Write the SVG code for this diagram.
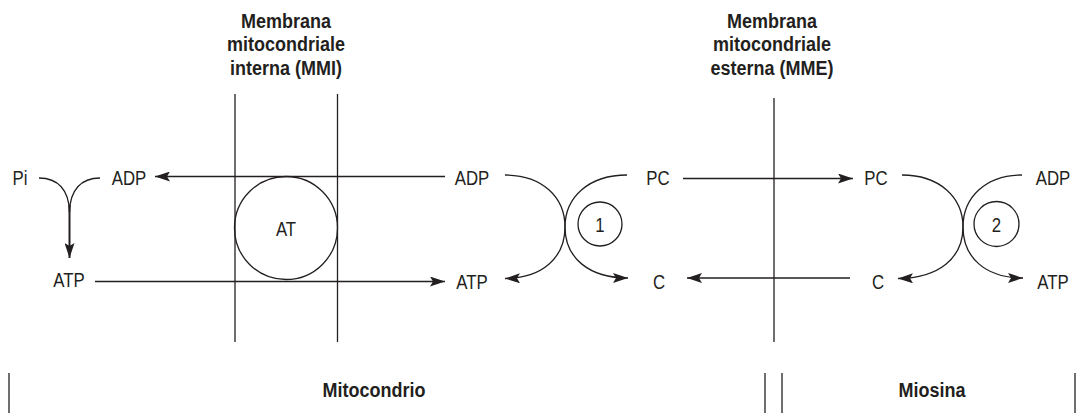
<svg xmlns="http://www.w3.org/2000/svg" width="1082" height="413" viewBox="0 0 1082 413">
<style>
.bg{fill:#ffffff}
.ln{stroke:#231f20;stroke-width:1.3;fill:none}
.lbl{font-family:"Liberation Sans",Arial,sans-serif;font-size:21px;fill:#231f20;text-anchor:middle}
.hdr{font-family:"Liberation Sans",Arial,sans-serif;font-weight:bold;font-size:18px;fill:#231f20;text-anchor:middle}
.bot{font-family:"Liberation Sans",Arial,sans-serif;font-weight:bold;font-size:18px;fill:#231f20;text-anchor:middle}
</style>
<defs>
<marker id="ah" markerWidth="16" markerHeight="10" refX="15" refY="5" orient="auto" markerUnits="userSpaceOnUse">
<path d="M0,0 L15,5 L0,10 L3,5 Z" fill="#231f20"/>
</marker>
</defs>
<rect class="bg" x="0" y="0" width="1082" height="413"/>

<g id="membranes">
<line class="ln" x1="235" y1="94" x2="235" y2="342"/>
<line class="ln" x1="337.5" y1="94" x2="337.5" y2="342"/>
<line class="ln" x1="774" y1="98" x2="774" y2="342"/>
</g>

<g id="header-mmi">
<text class="hdr" transform="translate(286,28) scale(1,1.1)">Membrana</text>
<text class="hdr" transform="translate(286,51) scale(1,1.1)">mitocondriale</text>
<text class="hdr" transform="translate(286,75) scale(1,1.1)">interna (MMI)</text>
</g>
<g id="header-mme">
<text class="hdr" transform="translate(772,28) scale(1,1.1)">Membrana</text>
<text class="hdr" transform="translate(772,51) scale(1,1.1)">mitocondriale</text>
<text class="hdr" transform="translate(772,75) scale(1,1.1)">esterna (MME)</text>
</g>

<g id="node-at">
<circle class="ln" cx="286" cy="228" r="51.5"/>
<text class="lbl" transform="translate(286,236) scale(0.8,1)">AT</text>
</g>

<g id="node-pi"><text class="lbl" transform="translate(20,185) scale(0.8,1)">Pi</text></g>
<g id="node-adp-left"><text class="lbl" transform="translate(129,185) scale(0.8,1)">ADP</text></g>
<g id="node-atp-left"><text class="lbl" transform="translate(69,287) scale(0.8,1)">ATP</text></g>
<g id="node-adp-mid"><text class="lbl" transform="translate(472,185) scale(0.8,1)">ADP</text></g>
<g id="node-atp-mid"><text class="lbl" transform="translate(472,289) scale(0.8,1)">ATP</text></g>
<g id="node-pc-mid"><text class="lbl" transform="translate(658,185) scale(0.8,1)">PC</text></g>
<g id="node-c-mid"><text class="lbl" transform="translate(659,289) scale(0.8,1)">C</text></g>
<g id="node-pc-right"><text class="lbl" transform="translate(876,185) scale(0.8,1)">PC</text></g>
<g id="node-c-right"><text class="lbl" transform="translate(878,289) scale(0.8,1)">C</text></g>
<g id="node-adp-right"><text class="lbl" transform="translate(1053,185) scale(0.8,1)">ADP</text></g>
<g id="node-atp-right"><text class="lbl" transform="translate(1053,289) scale(0.8,1)">ATP</text></g>

<g id="node-1">
<circle class="ln" cx="600" cy="224" r="22"/>
<text class="lbl" transform="translate(600,232) scale(0.8,1)">1</text>
</g>
<g id="node-2">
<circle class="ln" cx="996.5" cy="224" r="22.5"/>
<text class="lbl" transform="translate(996.5,232) scale(0.8,1)">2</text>
</g>

<g id="connectors">
<line class="ln" x1="445" y1="176.5" x2="155" y2="176.5" marker-end="url(#ah)"/>
<line class="ln" x1="95" y1="281.5" x2="445" y2="281.5" marker-end="url(#ah)"/>
<line class="ln" x1="683" y1="178.5" x2="853" y2="178.5" marker-end="url(#ah)"/>
<line class="ln" x1="850" y1="278" x2="687" y2="278" marker-end="url(#ah)"/>

<path class="ln" d="M39,178 C58,178 69,190 69.5,212"/>
<path class="ln" d="M100,178 C81,178 70,190 69.5,212"/>
<path class="ln" style="stroke-width:2" d="M69.5,205 L69.5,258" marker-end="url(#ah)"/>

<path class="ln" d="M505,175 C542,175 565,197 565,227 C565,258 542,278 505,278.5" marker-end="url(#ah)"/>
<path class="ln" d="M627,175 C589,175 565,197 565,227 C565,258 589,278 628,278" marker-end="url(#ah)"/>

<path class="ln" d="M902,175 C939,175 963,197 963,227 C963,258 939,278 898,278.5" marker-end="url(#ah)"/>
<path class="ln" d="M1022,175 C986,175 963,197 963,227 C963,258 986,278 1023,278" marker-end="url(#ah)"/>
</g>

<g id="footer">
<line class="ln" x1="9" y1="373" x2="9" y2="413"/>
<line class="ln" x1="765" y1="373" x2="765" y2="413"/>
<line class="ln" x1="782" y1="373" x2="782" y2="413"/>
<line class="ln" x1="1075" y1="373" x2="1075" y2="413"/>
<text class="bot" transform="translate(374,397) scale(1,1.15)">Mitocondrio</text>
<text class="bot" transform="translate(932,397) scale(1,1.15)">Miosina</text>
</g>
</svg>
